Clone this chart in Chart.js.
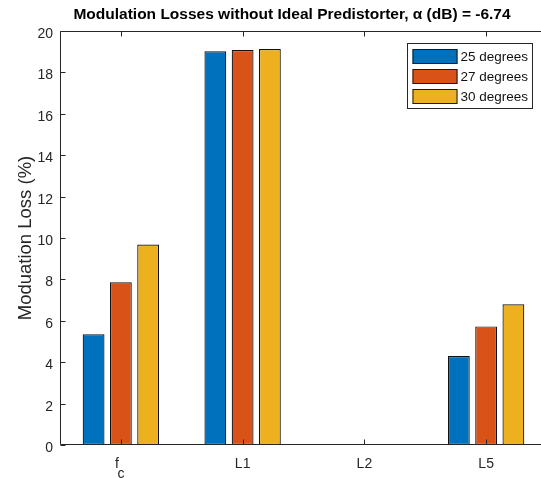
<!DOCTYPE html>
<html>
<head>
<meta charset="utf-8">
<script src="https://cdn.jsdelivr.net/npm/chart.js@4/dist/chart.umd.min.js"></script>
<style>
html,body{margin:0;padding:0;overflow:hidden;background:#fff;width:541px;height:478px;}
canvas{display:block;}
</style>
</head>
<body>
<canvas id="c" width="584" height="478"></canvas>
<script>
// ---- data ----
const categories = [['f  ', 'c'], 'L1', 'L2', 'L5'];
const seriesNames = ['25 degrees', '27 degrees', '30 degrees'];
const deg25 = [5.35, 19.02, 0, 4.30];
const deg27 = [7.86, 19.08, 0, 5.73];
const deg30 = [9.68, 19.13, 0, 6.80];
const yTicks = [0, 2, 4, 6, 8, 10, 12, 14, 16, 18, 20];
const colors = ['#0072BD', '#D95319', '#EDB120'];

const FONT = "'Liberation Sans', Arial, Helvetica, sans-serif";
const AX = '#262626';

const boxPlugin = {
  id: 'matlabBox',
  afterDatasetsDraw(chart) {
    const {ctx, chartArea, scales} = chart;
    const L = Math.round(chartArea.left) + 0.5, R = Math.round(chartArea.right) - 0.5;
    const T = Math.round(chartArea.top) + 0.5, B = Math.round(chartArea.bottom) - 0.5;
    ctx.save();
    ctx.strokeStyle = AX; ctx.lineWidth = 1;
    ctx.beginPath();
    ctx.rect(L, T, R - L, B - T);
    scales.x.ticks.forEach((t, i) => {
      const px = Math.round(scales.x.getPixelForTick(i)) + 0.5;
      ctx.moveTo(px, B); ctx.lineTo(px, B - 5);
      ctx.moveTo(px, T); ctx.lineTo(px, T + 5);
    });
    scales.y.ticks.forEach((t, i) => {
      const py = Math.round(scales.y.getPixelForTick(i)) + 0.5;
      ctx.moveTo(L, py); ctx.lineTo(L + 5, py);
      ctx.moveTo(R, py); ctx.lineTo(R - 5, py);
    });
    ctx.stroke();
    ctx.restore();
  },
  afterDraw(chart) {
    const {ctx, chartArea} = chart;
    const bw = 125, bh = 65;
    const bx = Math.round(chartArea.right - 15 - bw) + 0.5;
    const by = Math.round(chartArea.top + 12) + 0.5;
    ctx.save();
    ctx.fillStyle = '#fff';
    ctx.fillRect(bx, by, bw, bh);
    ctx.strokeStyle = AX; ctx.lineWidth = 1;
    ctx.strokeRect(bx, by, bw, bh);
    ctx.font = '13.5px ' + FONT;
    ctx.textBaseline = 'middle';
    ctx.textAlign = 'left';
    chart.data.datasets.forEach((ds, i) => {
      const sy = Math.round(by + 5 + i * 20.3);
      ctx.fillStyle = ds.backgroundColor;
      ctx.fillRect(bx + 5, sy, 45, 15);
      ctx.strokeStyle = '#1a1a1a';
      ctx.strokeRect(bx + 5.5, sy + 0.5, 44, 14);
      ctx.fillStyle = '#111';
      ctx.fillText(ds.label, bx + 53, sy + 8);
    });
    ctx.restore();
  }
};

new Chart(document.getElementById('c'), {
  type: 'bar',
  data: {
    labels: categories,
    datasets: [deg25, deg27, deg30].map((d, i) => ({
      label: seriesNames[i],
      data: d,
      backgroundColor: colors[i],
      borderColor: '#111',
      borderWidth: 1.2,
      borderSkipped: false,
      inflateAmount: 0,
      categoryPercentage: 0.672,
      barPercentage: 0.8
    }))
  },
  options: {
    responsive: false,
    animation: false,
    devicePixelRatio: 1,
    layout: {padding: {left: 37, right: 37, top: 0, bottom: 0}},
    plugins: {
      legend: {display: false},
      tooltip: {enabled: false},
      title: {
        display: true,
        text: 'Modulation Losses without Ideal Predistorter, \u03B1 (dB) = -6.74',
        color: '#000',
        font: {family: FONT, size: 15.5, weight: 'bold', lineHeight: 1.2},
        padding: {top: 5, bottom: 7.4}
      }
    },
    scales: {
      x: {
        grid: {display: false, drawTicks: false},
        border: {display: false},
        ticks: {color: AX, padding: 14.6, maxRotation: 0, autoSkip: false,
                font: {family: FONT, size: 14, lineHeight: 0.7}},
        afterFit(s) { s.height = 33; }
      },
      y: {
        min: 0, max: 20,
        afterBuildTicks(s) { s.ticks = yTicks.map(v => ({value: v})); },
        grid: {display: false, drawTicks: false},
        border: {display: false},
        ticks: {color: AX, padding: 7, font: {family: FONT, size: 14, lineHeight: 0.45},
                callback: (v) => ['', String(v)]},
        title: {display: true, text: 'Moduation Loss (%)', color: AX,
                font: {family: FONT, size: 18.5, lineHeight: 1.2}, padding: {top: -22.6, bottom: 0}},
        afterFit(s) { s.width = 23; }
      }
    }
  },
  plugins: [boxPlugin]
});
</script>
</body>
</html>
